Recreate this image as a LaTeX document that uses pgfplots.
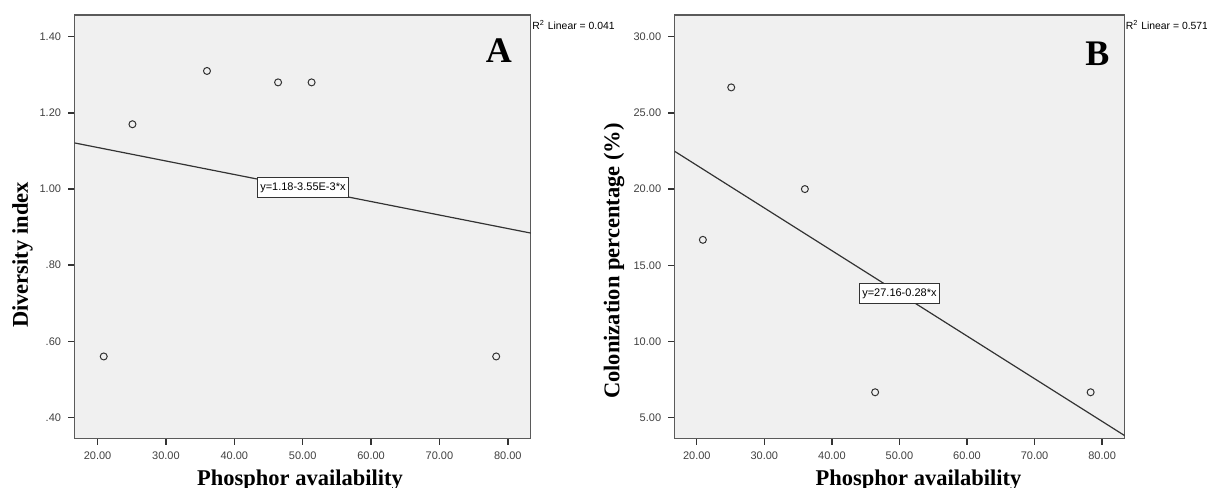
\documentclass[border=0pt]{standalone}
\usepackage{fontspec}
\setmainfont{Liberation Serif}
\setsansfont{Liberation Sans}
\usepackage{pgfplots}
\pgfplotsset{compat=1.18}

\definecolor{bggray}{HTML}{F0F0F0}
\definecolor{framegray}{HTML}{5A5A5A}
\definecolor{inkgray}{HTML}{333333}
\definecolor{ticktext}{HTML}{404040}

\newcommand{\ticksize}{\sffamily\fontsize{5.5}{6.5}\selectfont}
\newcommand{\notesize}{\sffamily\fontsize{5.2}{6}\selectfont}
\newcommand{\labsize}{\bfseries\fontsize{11.25}{13}\selectfont}

\pgfplotsset{
  spss/.style={
    scale only axis,
    anchor=south west,
    height=211.65pt,
    axis background/.style={fill=bggray},
    axis line style={draw=framegray, line width=0.7pt},
    xtick pos=bottom,
    ytick pos=left,
    tick align=outside,
    major tick length=3.25pt,
    every tick/.append style={inkgray, line width=0.7pt},
    tick label style={font=\ticksize, text=ticktext},
    /pgf/number format/assume math mode=true,
    xmin=16.64, xmax=83.36,
    xtick={20,30,40,50,60,70,80},
    xticklabels={20.00,30.00,40.00,50.00,60.00,70.00,80.00},
    clip mode=individual,
  },
  pts/.style={only marks, mark=o, mark size=1.75pt,
    mark options={draw=inkgray, line width=0.5pt}},
  fit/.style={no marks, draw=inkgray, line width=0.6pt},
}
\tikzset{
  eqbox/.style={draw=inkgray, fill=white, line width=0.4pt, font=\ticksize,
    inner xsep=1.5pt, inner ysep=2.5pt},
}

\begin{document}
\begin{tikzpicture}
\useasboundingbox (0,0) rectangle (603.5pt,244pt);

% panel A
\begin{axis}[spss, at={(37.3pt,24.85pt)}, width=228.1pt,
  ymin=0.345, ymax=1.457,
  ytick={0.4,0.6,0.8,1.0,1.2,1.4},
  yticklabels={.40,.60,.80,1.00,1.20,1.40}]
  \addplot[pts] coordinates {(20.9,0.56) (25.1,1.17) (36.0,1.31) (46.4,1.28) (51.3,1.28) (78.3,0.56)};
  \addplot[fit] coordinates {(16.64,1.1209) (83.36,0.8841)};
  \node[eqbox] at (axis cs:50.03,1.003) {y=1.18-3.55E-3*x};
  \node[font=\bfseries\fontsize{18}{20}\selectfont] at (axis cs:78.7,1.364) {A};
\end{axis}

% panel B
\begin{axis}[spss, at={(337.35pt,24.85pt)}, width=224.95pt,
  xmin=16.73, xmax=83.33,
  ymin=3.65, ymax=31.42,
  ytick={5,10,15,20,25,30},
  yticklabels={5.00,10.00,15.00,20.00,25.00,30.00}]
  \addplot[pts] coordinates {(20.9,16.67) (25.1,26.67) (36.0,20.0) (46.4,6.67) (78.3,6.67)};
  \addplot[fit] coordinates {(16.73,22.476) (83.33,3.828)};
  \node[eqbox] at (axis cs:50.0,13.16) {y=27.16-0.28*x};
  \node[font=\bfseries\fontsize{18}{20}\selectfont] at (axis cs:79.3,28.9) {B};
\end{axis}

% axis titles and R-squared notes
\node[font=\labsize, rotate=90] at (11.25pt,116.5pt) {Diversity index};
\node[font=\labsize, rotate=90] at (307pt,113.5pt) {Colonization percentage (\%)};
\node[font=\labsize, anchor=base] at (150pt,1.5pt) {Phosphor availability};
\node[font=\labsize, anchor=base] at (459.25pt,1.5pt) {Phosphor availability};
\node[font=\notesize, anchor=west, inner sep=0pt] at (266pt,231.5pt) {R\textsuperscript{2} Linear = 0.041};
\node[font=\notesize, anchor=west, inner sep=0pt] at (562.7pt,231.5pt) {R\textsuperscript{2} Linear = 0.571};
\end{tikzpicture}
\end{document}
